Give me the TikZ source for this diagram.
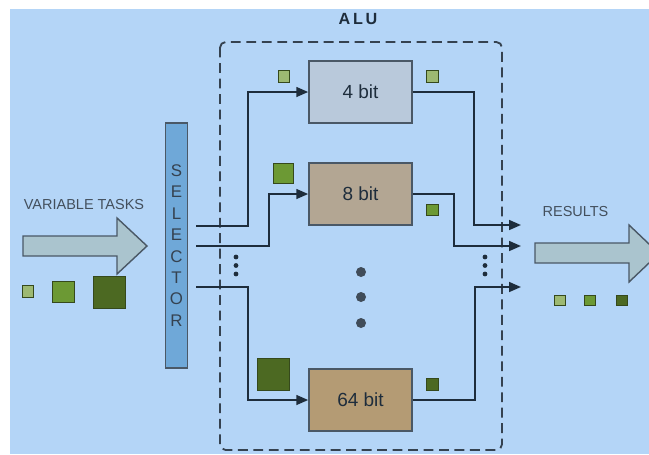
\documentclass[tikz,border=0pt]{standalone}
\usepackage{fontspec}
\setmainfont{Liberation Sans}
\usetikzlibrary{arrows.meta, positioning}
\definecolor{aluBack}{HTML}{B4D5F7}
\definecolor{aluLine}{HTML}{1E2D3C}
\definecolor{aluEdge}{HTML}{4A5866}
\definecolor{aluFour}{HTML}{B9C9DB}
\definecolor{aluEight}{HTML}{B3A693}
\definecolor{aluSixtyFour}{HTML}{B49B74}
\definecolor{aluSel}{HTML}{6FA8D8}
\definecolor{aluArrow}{HTML}{AAC4CE}
\definecolor{taskLight}{HTML}{9DB972}
\definecolor{taskMid}{HTML}{6C9934}
\definecolor{taskDark}{HTML}{4C6922}
\definecolor{taskEdge}{HTML}{35491C}
\tikzset{
  wire/.style       = {-{Triangle[length=8.5pt, width=7pt]}, line width=1.4pt, aluLine},
  unitbox/.style    = {draw=aluEdge, line width=1.1pt, minimum width=2.575cm,
                       minimum height=1.55cm, font=\fontsize{13.5}{15}\selectfont, text=aluLine},
  selbox/.style     = {draw=aluEdge, fill=aluSel, line width=1pt, minimum width=0.525cm,
                       minimum height=6.125cm, align=center, text=aluLine!90,
                       font=\fontsize{12}{15.2}\selectfont},
  tasksq/.style     = {draw=taskEdge, line width=0.6pt, inner sep=0pt},
  bigdot/.style     = {circle, fill=aluLine!85, inner sep=0pt, minimum size=0.25cm},
  smalldot/.style   = {circle, fill=aluLine, inner sep=0pt, minimum size=0.12cm},
  bigarrow/.style   = {draw=aluEdge, fill=aluArrow, line width=1pt},
  lbl/.style        = {font=\fontsize{10.3}{12}\selectfont, text=aluEdge!90!black},
  alubox/.style     = {dash pattern=on 7pt off 4pt, line width=1.3pt, aluLine!90,
                       rounded corners=4pt},
}

\begin{document}
\begin{tikzpicture}[x=0.025cm, y=-0.025cm]
\newcommand{\tasksq}[4]{% name, centre, size, colour
  \node[tasksq, minimum size=#3, fill=#4] (#1) at (#2) {};}
\useasboundingbox (0,0) rectangle (649,454);
\fill[aluBack] (10,9) rectangle (649,454);

% ALU frame
\draw[alubox] (220,42) rectangle (502,450);
\node[font=\bfseries\fontsize{11.5}{12}\selectfont, text=aluLine] (alu) at (358,19)
  {A\hspace{2pt}L\hspace{2pt}U};

% units
\node[unitbox, fill=aluFour]      (bit4)  at (360.5,92)  {4 bit};
\node[unitbox, fill=aluEight]     (bit8)  at (360.5,194) {8 bit};
\node[unitbox, fill=aluSixtyFour] (bit64) at (360.5,400) {64 bit};
\node[bigdot] (dota) at (361,272) {};
\node[bigdot] (dotb) at (361,297) {};
\node[bigdot] (dotc) at (361,323) {};

% selector
\node[selbox] (sel) at (176.5,245.5) {S\\E\\L\\E\\C\\T\\O\\R};

% wires in
\coordinate (in4)  at (196,226);
\coordinate (in8)  at (196,246);
\coordinate (in64) at (196,287);
\draw[wire] (in4)  -- ++(52,0) |- (bit4.west);
\draw[wire] (in8)  -- ++(73,0) |- (bit8.west);
\draw[wire] (in64) -- ++(52,0) |- (bit64.west);

% wires out
\coordinate (out4)  at (521,225);
\coordinate (out8)  at (521,246);
\coordinate (out64) at (521,287);
\draw[wire] (bit4.east)  -- ++(61,0) |- (out4);
\draw[wire] (bit8.east)  -- ++(41,0) |- (out8);
\draw[wire] (bit64.east) -- ++(62,0) |- (out64);

\foreach \y [count=\i] in {257,265.5,274} {
  \node[smalldot] (ldot\i) at (236,\y) {};
  \node[smalldot] (rdot\i) at (485,\y) {};
}

% tasks in
\node[lbl] (tasks) at (84,205) {VARIABLE TASKS};
\draw[bigarrow] (23,236) -- (117,236) -- (117,218) -- (147,246) -- (117,274)
  -- (117,256) -- (23,256) -- cycle;
\tasksq{tin1}{28,291.5}{0.29cm}{taskLight}
\tasksq{tin2}{63.5,292}{0.53cm}{taskMid}
\tasksq{tin3}{109.5,292.5}{0.8cm}{taskDark}

% tasks at the units
\tasksq{t4in}{284,76.5}{0.28cm}{taskLight}
\tasksq{t4out}{432.5,76.5}{0.28cm}{taskLight}
\tasksq{t8in}{283.5,173.5}{0.52cm}{taskMid}
\tasksq{t8out}{432.5,210}{0.28cm}{taskMid}
\tasksq{t64in}{273.5,374.5}{0.78cm}{taskDark}
\tasksq{t64out}{432.5,384.5}{0.28cm}{taskDark}

% results out
\node[lbl] (results) at (575.5,212) {RESULTS};
\draw[bigarrow] (535,243) -- (629,243) -- (629,225) -- (659,253.5) -- (629,282)
  -- (629,263) -- (535,263) -- cycle;
\tasksq{rout1}{560,300.5}{0.26cm}{taskLight}
\tasksq{rout2}{590,300.5}{0.26cm}{taskMid}
\tasksq{rout3}{622,300.5}{0.26cm}{taskDark}
\end{tikzpicture}
\end{document}
